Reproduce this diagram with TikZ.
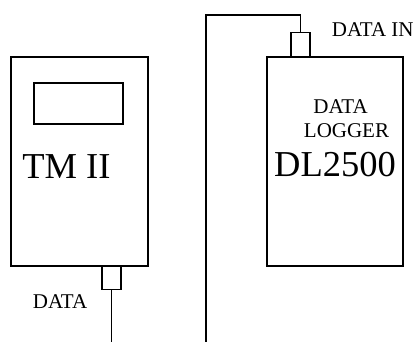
\documentclass[tikz,border=0pt]{standalone}
\usepackage{fontspec}
\setmainfont{Liberation Serif}
\usetikzlibrary{positioning,calc}
\tikzset{
  unit/.style={draw, line width=1.3pt, minimum width=137pt, minimum height=209pt, inner sep=0pt},
  display/.style={draw, line width=1.3pt, minimum width=89pt, minimum height=41pt, inner sep=0pt},
  port/.style={draw, line width=1.3pt, minimum width=19pt, minimum height=23pt, inner sep=0pt},
  cable/.style={line width=1.3pt},
  bigtxt/.style={inner sep=0pt, font=\fontsize{36.5}{40}\selectfont},
  smalltxt/.style={inner sep=0pt, font=\fontsize{21}{24}\selectfont},
}
\begin{document}
\begin{tikzpicture}[x=1pt, y=-1pt]
\useasboundingbox (0,0) rectangle (415,342);
% TM II unit
\node[unit] (tm) at (79.5,161.5) {};
\node[display] (screen) at (78.5,103.5) {};
\node[bigtxt, anchor=base] (tmlbl) at (66.4,178.3) {TM II};
\node[port, anchor=north] (tmport) at (111.5,266) {};
\coordinate (tmend) at (111.5,342);
\draw[cable] (tmport.south) -- (tmend);
\node[smalltxt, anchor=base] (datalbl) at (60,308.3) {DATA};
% data logger
\node[unit, minimum width=136pt] (dl) at (335,161.5) {};
\node[smalltxt, anchor=base] (dllbl1) at (340.5,113.3) {DATA};
\node[smalltxt, anchor=base] (dllbl2) at (346.5,137.3) {LOGGER};
\node[bigtxt, anchor=base] (dllbl3) at (335,176.7) {DL2500};
\node[port, anchor=south, minimum height=24pt] (dlport) at (300.5,57) {};
\node[smalltxt, anchor=base west] (inlbl) at (331.7,36.7) {DATA IN};
% cable into logger
\coordinate (dlend) at (206,342);
\draw[cable] (dlport.north) |- (206,15) -- (dlend);
\end{tikzpicture}
\end{document}
